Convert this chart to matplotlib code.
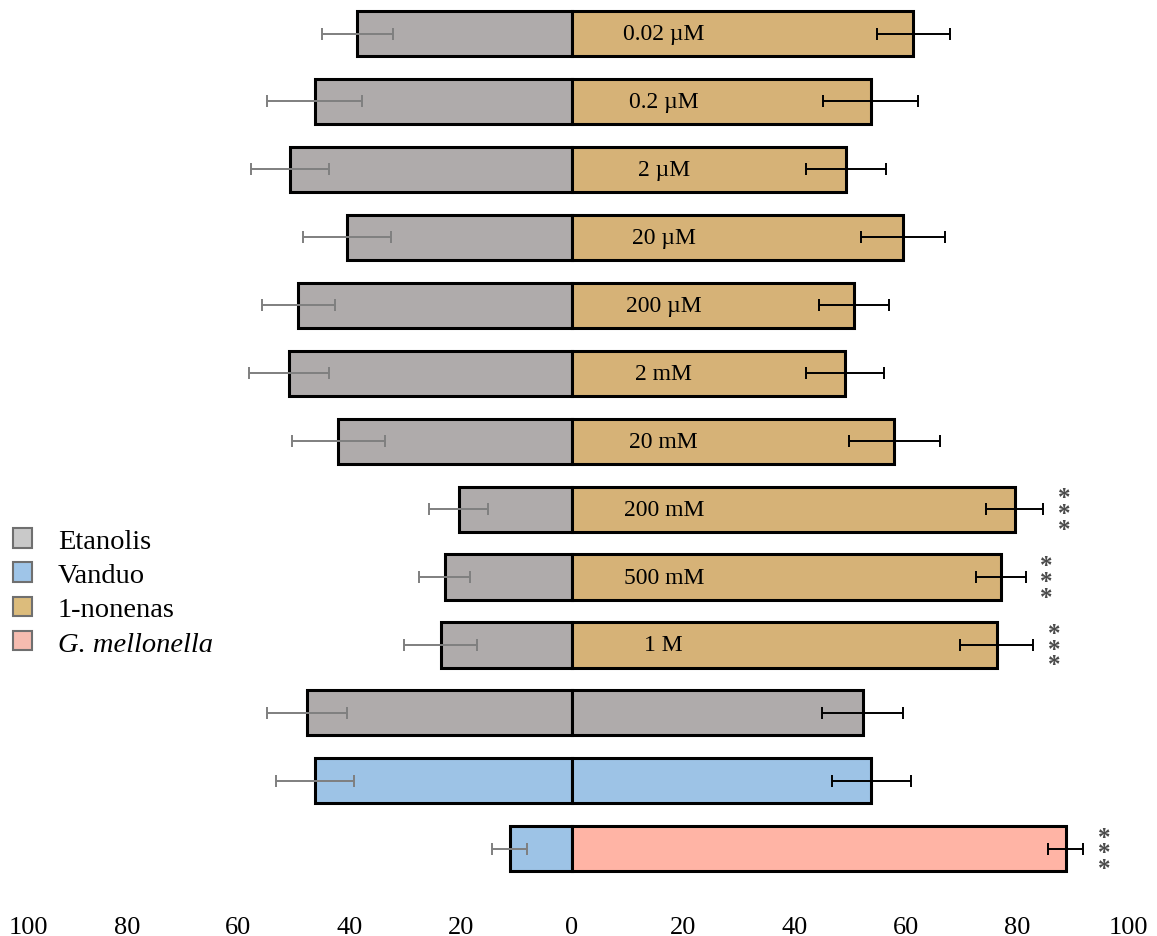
import matplotlib.pyplot as plt
from matplotlib.patches import Patch
from matplotlib.transforms import ScaledTranslation

plt.rcParams.update({
    "font.family": ["Liberation Serif", "DejaVu Serif"],
    "font.size": 18,
})

# one row per test, top to bottom
labels = ["0.02 µM", "0.2 µM", "2 µM", "20 µM", "200 µM", "2 mM", "20 mM",
          "200 mM", "500 mM", "1 M", "", "", ""]
left_group = ["Etanolis"] * 11 + ["Vanduo"] * 2
right_group = ["1-nonenas"] * 10 + ["Etanolis", "Vanduo", "G. mellonella"]

left_pct = [38.6, 46.3, 50.7, 40.5, 49.2, 50.9, 42.0, 20.4, 22.9, 23.6, 47.6, 46.2, 11.2]
left_err = [6.4, 8.5, 7.0, 7.9, 6.6, 7.2, 8.3, 5.3, 4.6, 6.6, 7.2, 7.0, 3.1]
right_pct = [61.4, 53.7, 49.3, 59.5, 50.8, 49.1, 58.0, 79.6, 77.1, 76.4, 52.3, 53.8, 88.8]
right_err = [6.5, 8.5, 7.2, 7.6, 6.3, 7.0, 8.1, 5.2, 4.5, 6.6, 7.3, 7.1, 3.1]
signif = ["", "", "", "", "", "", "", "***", "***", "***", "", "", "***"]

bar_colors = {
    "Etanolis": "#afabab",
    "Vanduo": "#9dc3e6",
    "1-nonenas": "#d6b277",
    "G. mellonella": "#ffb4a5",
}
legend_colors = {
    "Etanolis": "#c9c9c9",
    "Vanduo": "#9fc5e8",
    "1-nonenas": "#dcbc7c",
    "G. mellonella": "#f6bcb0",
}

y = list(range(len(labels)))

fig = plt.figure(figsize=(11.57, 9.37), dpi=100)
ax = fig.add_axes([16 / 1157, 0.0568, 1112 / 1157, 0.9426])

ax.barh(y, [-v for v in left_pct], height=0.664,
        color=[bar_colors[g] for g in left_group],
        edgecolor="black", linewidth=2.2, zorder=2)
ax.barh(y, right_pct, height=0.664,
        color=[bar_colors[g] for g in right_group],
        edgecolor="black", linewidth=2.2, zorder=2)

ax.errorbar([-v for v in left_pct], y, xerr=left_err, fmt="none",
            ecolor="#7f7f7f", elinewidth=1.4, capsize=4, capthick=1.4, zorder=3)
ax.errorbar(right_pct, y, xerr=right_err, fmt="none",
            ecolor="black", elinewidth=1.4, capsize=4, capthick=1.4, zorder=3)

for yi, lab in zip(y, labels):
    if lab:
        ax.text(16.5, yi, lab, ha="center", va="center", fontsize=17, zorder=4)

# stars stacked to the right of the error bar
for yi, v, e, s in zip(y, right_pct, right_err, signif):
    if s:
        ax.annotate("\n".join(s), xy=(v + e, yi), xytext=(15, -3),
                    textcoords="offset points", ha="center", va="center",
                    fontsize=18, linespacing=0.6, color="#4a4a4a",
                    fontweight="bold")

ax.set_xlim(-100, 100)
ax.set_ylim(len(labels) - 0.5, -0.5)
ticks = list(range(-100, 101, 20))
ax.set_xticks(ticks)
ax.set_xticklabels([str(abs(t)) for t in ticks], fontsize=19)
ax.set_yticks([])
ax.tick_params(axis="x", length=0, pad=24)
for side in ["top", "right", "bottom", "left"]:
    ax.spines[side].set_visible(False)

# keep the leftmost label inside the figure
first = ax.get_xticklabels()[0]
first.set_transform(first.get_transform() + ScaledTranslation(0.12, 0, fig.dpi_scale_trans))

handles = [Patch(facecolor=legend_colors[g], edgecolor="#6f6f6f", linewidth=1.5)
           for g in legend_colors]
leg = fig.legend(handles, list(legend_colors), loc="upper left",
                 bbox_to_anchor=(13 / 1157, 1 - 529 / 937), frameon=False,
                 fontsize=20.5, handlelength=0.68, handleheight=0.68,
                 handletextpad=0.9, labelspacing=0.3,
                 borderpad=0, borderaxespad=0)
leg.get_texts()[3].set_fontstyle("italic")

fig.savefig("out.png", dpi=100)
